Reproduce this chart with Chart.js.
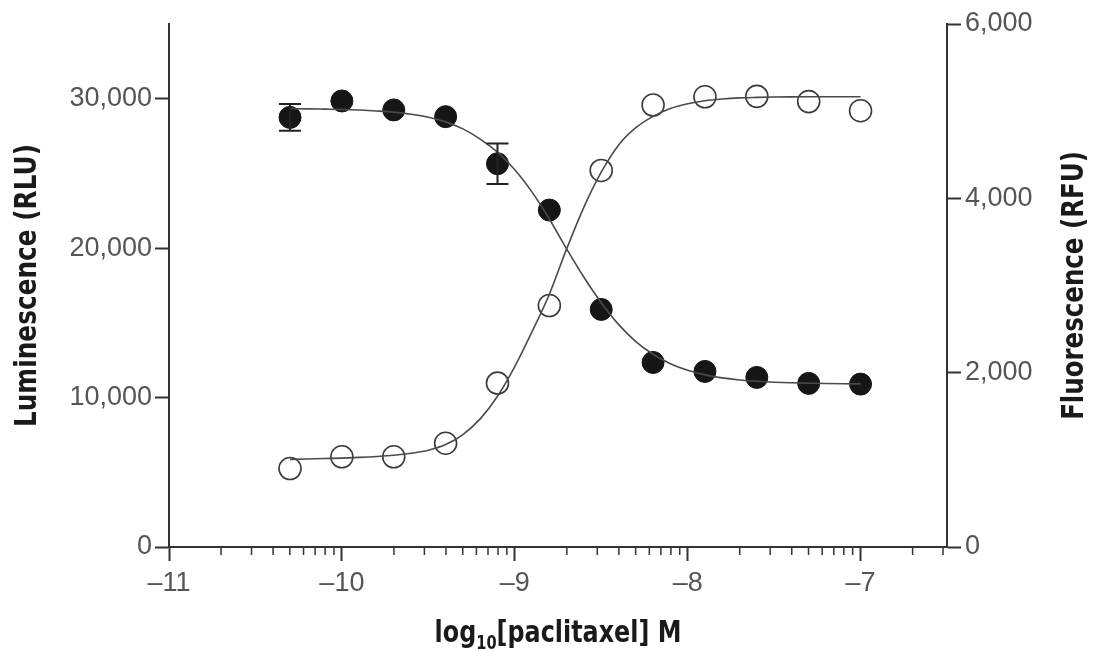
<!DOCTYPE html>
<html>
<head>
<meta charset="utf-8">
<script src="https://cdn.jsdelivr.net/npm/chart.js@4.4.1/dist/chart.umd.min.js"></script>
<style>
  body { margin: 0; background: #fff; }
  canvas { display: block; }
</style>
</head>
<body>
<canvas id="doseChart" width="1094" height="652"></canvas>
<script>
// measured doses (log10 M) and readings
const doses = [-10.3, -10.0, -9.7, -9.4, -9.1, -8.8, -8.5, -8.2, -7.9, -7.6, -7.3, -7.0];
const luminescence = [28750, 29850, 29250, 28800, 25650, 22550, 15900, 12350, 11750, 11350, 10950, 10900];
const luminescenceError = [900, null, null, null, 1350, null, null, null, null, null, null, null];
const fluorescence = [900, 1035, 1035, 1190, 1880, 2770, 4320, 5070, 5165, 5170, 5110, 5005];

// fitted curves
const fitDoses = [-10.3, -10.2, -10.1, -10.0, -9.9, -9.8, -9.7, -9.6, -9.5, -9.4, -9.3, -9.2,
    -9.1, -9.0, -8.9, -8.8, -8.7, -8.6, -8.5, -8.4, -8.3, -8.2, -8.1, -8.0, -7.9, -7.8,
    -7.7, -7.6, -7.5, -7.4, -7.3, -7.2, -7.1, -7.0];
const luminescenceFit = [29330, 29320, 29300, 29280, 29240, 29180, 29100, 28960, 28760, 28450,
    27980, 27300, 26420, 25250, 23750, 21950, 19950, 18050, 16350, 14900, 13750, 12900, 12270,
    11830, 11520, 11320, 11180, 11090, 11030, 10990, 10960, 10940, 10925, 10915];
const fluorescenceFit = [1005, 1010, 1015, 1020, 1028, 1038, 1052, 1075, 1110, 1175, 1290, 1470,
    1730, 2070, 2470, 2900, 3420, 3900, 4300, 4610, 4810, 4940, 5030, 5085, 5120, 5140, 5152,
    5158, 5162, 5164, 5165, 5165, 5165, 5165];

// axes
const xMajorTicks = [-11, -10, -9, -8, -7];
const xMinorFactors = [2, 3, 4, 5, 6, 7, 8, 9];
const luminescenceTicks = [0, 10000, 20000, 30000];
const fluorescenceTicks = [0, 2000, 4000, 6000];

const axisColor = '#333333';
const tickFont = { family: "'Liberation Sans', Arial, sans-serif", size: 27 };
const titleFamily = "'DejaVu Sans', sans-serif";

const toPoints = function (xs, ys) {
    return xs.map((x, i) => ({ x: x, y: ys[i] }));
};

const minorTicks = {
    id: 'minorTicks',
    afterDraw(chart) {
        const xs = chart.scales.x;
        const ctx = chart.ctx;
        ctx.save();
        ctx.strokeStyle = axisColor;
        ctx.lineWidth = 1.5;
        xMajorTicks.forEach(function (major) {
            xMinorFactors.forEach(function (k) {
                const v = major + Math.log10(k);
                if (v > xs.max) return;
                const px = xs.getPixelForValue(v);
                ctx.beginPath();
                ctx.moveTo(px, xs.top);
                ctx.lineTo(px, xs.top + 8);
                ctx.stroke();
            });
        });
        ctx.restore();
    }
};

const errorBars = {
    id: 'errorBars',
    afterDatasetsDraw(chart) {
        const xs = chart.scales.x;
        const ys = chart.scales.yL;
        const ctx = chart.ctx;
        ctx.save();
        ctx.strokeStyle = '#222';
        ctx.lineWidth = 2;
        luminescenceError.forEach(function (err, i) {
            if (!err) return;
            const px = xs.getPixelForValue(doses[i]);
            const top = ys.getPixelForValue(luminescence[i] + err);
            const bottom = ys.getPixelForValue(luminescence[i] - err);
            ctx.beginPath();
            ctx.moveTo(px, top);
            ctx.lineTo(px, bottom);
            ctx.moveTo(px - 11, top);
            ctx.lineTo(px + 11, top);
            ctx.moveTo(px - 11, bottom);
            ctx.lineTo(px + 11, bottom);
            ctx.stroke();
        });
        ctx.restore();
    }
};

// condensed bold titles: draw with a horizontal squeeze along the text
const drawSqueezed = function (ctx, text, cx, cy, angle, squeeze) {
    ctx.save();
    ctx.translate(cx, cy);
    ctx.rotate(angle);
    ctx.scale(squeeze, 1);
    ctx.fillText(text, 0, 0);
    ctx.restore();
};

const axisTitles = {
    id: 'axisTitles',
    afterDraw(chart) {
        const ctx = chart.ctx;
        const area = chart.chartArea;
        const midY = (area.top + area.bottom) / 2;
        ctx.save();
        ctx.fillStyle = '#1a1a1a';
        ctx.font = 'bold 31px ' + titleFamily;
        ctx.textAlign = 'center';
        ctx.textBaseline = 'middle';

        drawSqueezed(ctx, 'Luminescence (RLU)', 28, midY, -Math.PI / 2, 0.8);
        drawSqueezed(ctx, 'Fluorescence (RFU)', chart.width - 19, midY, -Math.PI / 2, 0.79);

        // x axis title with subscript
        const squeeze = 0.77;
        const big = 'bold 31px ' + titleFamily;
        const small = 'bold 19px ' + titleFamily;
        ctx.textAlign = 'left';
        ctx.textBaseline = 'alphabetic';
        ctx.font = big;
        const w1 = ctx.measureText('log').width;
        const w3 = ctx.measureText('[paclitaxel] M').width;
        ctx.font = small;
        const w2 = ctx.measureText('10').width;
        const total = (w1 + w2 + w3) * squeeze;
        ctx.translate((area.left + area.right) / 2 - total / 2, 642);
        ctx.scale(squeeze, 1);
        ctx.font = big;
        ctx.fillText('log', 0, 0);
        ctx.font = small;
        ctx.fillText('10', w1, 7);
        ctx.font = big;
        ctx.fillText('[paclitaxel] M', w1 + w2, 0);
        ctx.restore();
    }
};

const ctx = document.getElementById('doseChart').getContext('2d');
const doseChart = new Chart(ctx, {
    type: 'scatter',
    data: {
        datasets: [{
            data: toPoints(fitDoses, luminescenceFit),
            yAxisID: 'yL',
            showLine: true,
            cubicInterpolationMode: 'monotone',
            borderColor: '#4a4a4a',
            borderWidth: 1.6,
            pointRadius: 0
        }, {
            data: toPoints(fitDoses, fluorescenceFit),
            yAxisID: 'yR',
            showLine: true,
            cubicInterpolationMode: 'monotone',
            borderColor: '#4a4a4a',
            borderWidth: 1.6,
            pointRadius: 0
        }, {
            data: toPoints(doses, luminescence),
            yAxisID: 'yL',
            pointRadius: 11,
            pointBackgroundColor: '#161616',
            pointBorderColor: '#161616',
            pointBorderWidth: 1
        }, {
            data: toPoints(doses, fluorescence),
            yAxisID: 'yR',
            pointRadius: 11,
            pointBackgroundColor: 'rgba(0,0,0,0)',
            pointBorderColor: '#3a3a3a',
            pointBorderWidth: 1.6
        }]
    },
    options: {
        responsive: false,
        animation: false,
        events: [],
        layout: { padding: { top: 24, left: 0, right: 0, bottom: 0 } },
        plugins: {
            legend: { display: false },
            tooltip: { enabled: false }
        },
        scales: {
            x: {
                type: 'linear',
                min: -11,
                max: -6.5,
                afterBuildTicks: function (scale) {
                    scale.ticks = xMajorTicks.map(v => ({ value: v }));
                },
                afterFit: function (scale) {
                    scale.height = 105;
                },
                ticks: {
                    autoSkip: false,
                    maxRotation: 0,
                    padding: 6,
                    color: '#555',
                    font: tickFont,
                    callback: v => (v < 0 ? '\u2013' : '') + Math.abs(v)
                },
                grid: {
                    drawOnChartArea: false,
                    drawTicks: true,
                    tickLength: 14,
                    tickColor: axisColor,
                    tickWidth: 2
                },
                border: { display: true, color: axisColor, width: 2 }
            },
            yL: {
                type: 'linear',
                position: 'left',
                min: 0,
                max: 35000,
                afterBuildTicks: function (scale) {
                    scale.ticks = luminescenceTicks.map(v => ({ value: v }));
                },
                afterFit: function (scale) {
                    scale.width = 169;
                },
                ticks: {
                    padding: 3,
                    color: '#555',
                    font: tickFont,
                    callback: v => v.toLocaleString('en-US')
                },
                grid: {
                    drawOnChartArea: false,
                    drawTicks: true,
                    tickLength: 14,
                    tickColor: axisColor,
                    tickWidth: 2
                },
                border: { display: true, color: axisColor, width: 2 }
            },
            yR: {
                type: 'linear',
                position: 'right',
                min: 0,
                max: 6000,
                afterBuildTicks: function (scale) {
                    scale.ticks = fluorescenceTicks.map(v => ({ value: v }));
                },
                afterFit: function (scale) {
                    scale.width = 147;
                },
                ticks: {
                    padding: 4,
                    color: '#555',
                    font: tickFont,
                    callback: v => v.toLocaleString('en-US')
                },
                grid: {
                    drawOnChartArea: false,
                    drawTicks: true,
                    tickLength: 14,
                    tickColor: axisColor,
                    tickWidth: 2
                },
                border: { display: true, color: axisColor, width: 2 }
            }
        }
    },
    plugins: [minorTicks, errorBars, axisTitles]
});
</script>
</body>
</html>
